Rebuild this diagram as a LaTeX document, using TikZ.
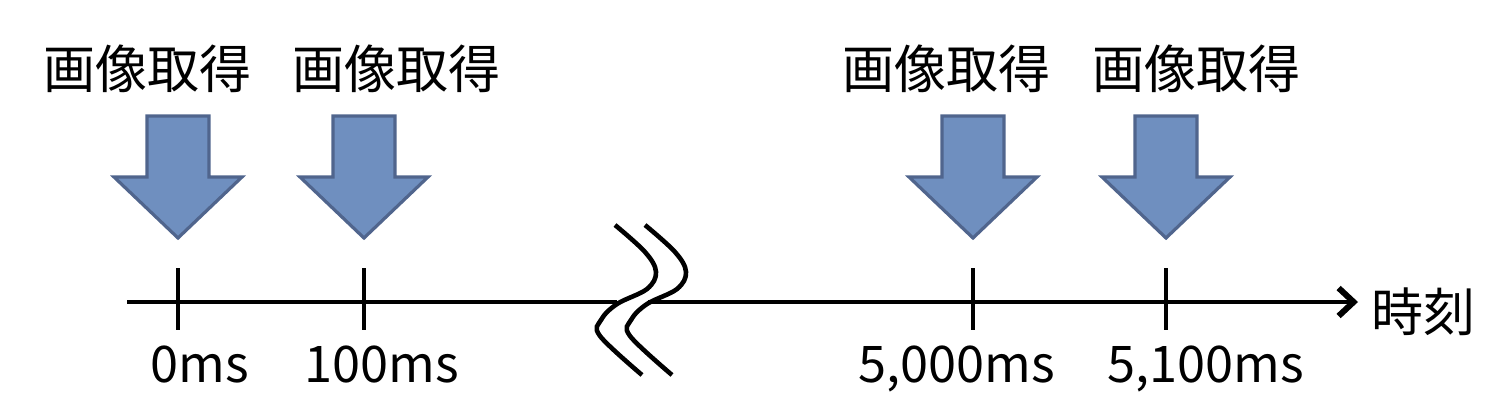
\documentclass[tikz,border=0pt]{standalone}
\usepackage{fontspec}
\setmainfont{Noto Sans CJK JP}
\usetikzlibrary{arrows.meta}
\definecolor{arrowfill}{RGB}{111,143,191}
\definecolor{arrowline}{RGB}{80,101,141}
\tikzset{
  bigarrow/.style={fill=arrowfill, draw=arrowline, line width=3.2pt, line join=miter},
  axisline/.style={line width=4.6pt, black},
  tickline/.style={line width=4.2pt, black},
  breakline/.style={line width=4.6pt, black},
  lbl/.style={anchor=base, inner sep=0pt, font=\fontsize{52}{60}\selectfont},
  tlbl/.style={anchor=base, inner sep=0pt, font=\fontsize{50.5}{60}\selectfont},
}
\begin{document}
\begin{tikzpicture}[x=1pt, y=-1pt]
\useasboundingbox (0,0) rectangle (1499,415);
% big down arrows
\foreach \c in {178,364,973,1166}{
  \draw[bigarrow] (\c-31,116) -- (\c+31,116) -- (\c+31,177) -- (\c+64,177)
     -- (\c,238) -- (\c-64,177) -- (\c-31,177) -- cycle;
}
% labels above
\node[lbl] (g1) at (147,88) {画像取得};
\node[lbl] (g2) at (396,88) {画像取得};
\node[lbl] (g3) at (946,88) {画像取得};
\node[lbl] (g4) at (1196,88) {画像取得};
% axis
\coordinate (axL) at (127,302);
\coordinate (brL) at (617,302);
\coordinate (brR) at (648,302);
\coordinate (axR) at (1358,302);
\draw[axisline] (axL) -- (brL);
\draw[axisline, -{Straight Barb[length=15pt,width=28pt,line width=6pt]}] (brR) -- (axR);
% ticks
\foreach \c [count=\i] in {178,364,973,1166}{
  \coordinate (t\i a) at (\c,268);
  \coordinate (t\i b) at (\c,330);
  \draw[tickline] (t\i a) -- (t\i b);
}
% break mark
\foreach \d in {0,30}{
  \draw[breakline, line cap=butt] plot[smooth, tension=0.6] coordinates
    {(615+\d,225) (645+\d,252) (656+\d,272) (647+\d,289) (617+\d,304) (601+\d,320) (600+\d,336) (642+\d,375)};
}
% time labels
\node[tlbl] (l1) at (200,382) {0ms};
\node[tlbl] (l2) at (382,382) {100ms};
\node[tlbl] (l3) at (957,382) {5,000ms};
\node[tlbl] (l4) at (1206,382) {5,100ms};
\node[lbl] (tm) at (1423,331) {時刻};
\end{tikzpicture}
\end{document}
